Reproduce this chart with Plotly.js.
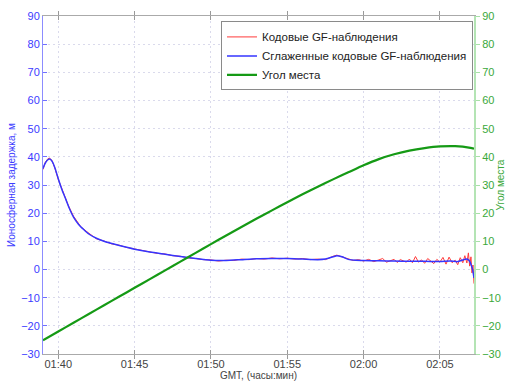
<!DOCTYPE html>
<html>
<head>
<meta charset="utf-8">
<script src="https://cdn.plot.ly/plotly-3.0.1.min.js"></script>
<style>html,body{margin:0;padding:0;background:#fff;}#chart{width:506px;height:383px;}</style>
</head>
<body>
<div id="chart"></div>
<script>
// ---- data ----
const DAY = '2000-01-01 ';
const legendNames = ['Кодовые GF-наблюдения', 'Сглаженные кодовые GF-наблюдения', 'Угол места'];

const rawTimes = ['01:39:00','01:39:08','01:39:16','01:39:24','01:39:34','01:39:46','01:40:00','01:40:20','01:40:40','01:41:00',
  '01:41:30','01:42:00','01:42:30','01:43:00','01:43:30','01:44:00','01:44:30','01:45:00','01:45:30','01:46:00',
  '01:46:30','01:47:00','01:47:30','01:48:00','01:48:30','01:49:00','01:49:30','01:50:00','01:50:30','01:51:00',
  '01:51:30','01:52:00','01:52:30','01:53:00','01:53:30','01:54:00','01:54:30','01:55:00','01:55:30','01:56:00',
  '01:56:30','01:57:00','01:57:30','01:58:00','01:58:15','01:58:35','01:59:00','01:59:20','01:59:40','02:00:00',
  '02:00:20','02:00:40','02:01:00','02:01:15','02:01:30','02:01:45','02:02:00','02:02:12','02:02:24','02:02:36',
  '02:02:48','02:03:00','02:03:12','02:03:24','02:03:36','02:03:48','02:04:00','02:04:12','02:04:24','02:04:36',
  '02:04:48','02:05:00','02:05:12','02:05:24','02:05:36','02:05:48','02:06:00','02:06:10','02:06:20','02:06:30',
  '02:06:38','02:06:46','02:06:52','02:06:57','02:07:02','02:07:06','02:07:10','02:07:14'];
const rawDelay = [35.5,37.9,39.0,39.6,38.9,36.2,32.0,27.0,22.6,18.9,
  15.0,12.9,10.9,10.1,9.1,8.6,7.8,7.3,6.7,6.3,
  5.7,5.5,4.9,4.7,4.1,3.9,3.5,3.4,3.0,3.3,
  3.2,3.7,3.5,3.9,3.7,4.1,3.8,4.0,3.7,3.9,
  3.5,3.7,3.5,4.7,5.1,4.5,3.8,3.2,3.5,3.0,
  3.6,2.8,3.4,3.9,2.6,3.2,3.6,2.5,3.5,3.1,
  2.6,3.7,2.4,4.6,2.6,3.4,2.2,3.9,2.9,2.1,
  3.6,2.6,4.3,1.9,4.4,2.4,3.3,1.7,4.2,2.4,
  4.9,2.3,5.9,1.2,4.5,-1.2,1.6,-5.0];

const smoothTimes = ['01:39:00','01:39:08','01:39:16','01:39:26','01:39:36','01:39:48','01:40:00','01:40:15','01:40:30','01:40:45',
  '01:41:00','01:41:20','01:41:40','01:42:00','01:42:30','01:43:00','01:43:30','01:44:00','01:45:00','01:46:00',
  '01:47:00','01:48:00','01:49:00','01:50:00','01:51:00','01:52:00','01:53:00','01:54:00','01:55:00','01:56:00',
  '01:57:00','01:57:30','01:58:00','01:58:15','01:58:35','01:59:00','01:59:30','02:00:00','02:01:00','02:02:00',
  '02:03:00','02:04:00','02:05:00','02:05:40','02:06:10','02:06:30','02:06:45','02:06:55','02:07:03','02:07:09','02:07:14'];
const smoothDelay = [35.9,37.6,38.7,39.2,38.4,35.8,32.2,28.2,24.8,21.4,
  18.6,16.0,14.2,12.6,11.1,10.0,9.2,8.5,7.2,6.2,
  5.4,4.6,3.9,3.3,3.2,3.5,3.8,3.9,3.9,3.7,
  3.5,3.7,4.5,4.9,4.5,3.6,3.3,3.2,3.1,3.0,
  2.9,2.9,2.8,3.0,2.8,3.4,3.7,3.2,1.6,-0.2,-3.0];

const elevTimes = ['01:39:00','01:40:00','01:41:00','01:42:00','01:43:00','01:44:00','01:45:00','01:46:00','01:47:00','01:48:00',
  '01:49:00','01:50:00','01:51:00','01:52:00','01:53:00','01:54:00','01:55:00','01:56:00','01:57:00','01:58:00',
  '01:59:00','02:00:00','02:01:00','02:02:00','02:03:00','02:04:00','02:05:00','02:06:00','02:07:00','02:07:14'];
const elevation = [-25.1,-22.0,-18.9,-15.8,-12.7,-9.6,-6.5,-3.4,-0.3,2.8,
  5.9,9.0,12.1,15.1,18.1,21.0,23.9,26.7,29.4,32.0,
  34.5,37.0,39.2,40.9,42.2,43.1,43.7,43.8,43.2,42.9];

const tickStart = '01:40:00';
const xRange = ['01:39:00', '02:07:14'];
const yRange = [-30, 90];

// ---- chart ----
const d = s => DAY + s;
const FONT = 'Liberation Sans, Arial, sans-serif';

const traces = [
  {x: rawTimes.map(d), y: rawDelay, name: legendNames[0], type: 'scatter', mode: 'lines',
   line: {color: '#ff3a3a', width: 1}, yaxis: 'y'},
  {x: smoothTimes.map(d), y: smoothDelay, name: legendNames[1], type: 'scatter', mode: 'lines',
   line: {color: '#3535ff', width: 1.5, shape: 'spline', smoothing: 0.6}, yaxis: 'y'},
  {x: elevTimes.map(d), y: elevation, name: legendNames[2], type: 'scatter', mode: 'lines',
   line: {color: '#159a15', width: 2.2, shape: 'spline', smoothing: 0.6}, yaxis: 'y2'}
];

const grid = '#dadaec';
const layout = {
  width: 506, height: 383,
  margin: {l: 43, r: 32, t: 16, b: 29},
  paper_bgcolor: '#fff', plot_bgcolor: '#fff',
  font: {family: FONT, size: 11, color: '#333'},
  showlegend: true,
  legend: {x: 0.413, y: 0.984, xanchor: 'left', yanchor: 'top', bgcolor: '#fff',
           bordercolor: '#8a8a8a', borderwidth: 1, font: {family: FONT, size: 11.5, color: '#222'},
           itemwidth: 30, tracegroupgap: 0},
  xaxis: {type: 'date', range: xRange.map(d), tickformat: '%H:%M', dtick: 300000, tick0: d(tickStart),
          ticks: 'inside', ticklen: 4, tickcolor: '#999', showline: true, linecolor: '#aaa', mirror: 'allticks',
          showgrid: true, gridcolor: grid, griddash: '2px,3px', zeroline: false,
          tickfont: {family: FONT, size: 11, color: '#444'},
          title: {text: 'GMT, (часы:мин)', font: {family: FONT, size: 10, color: '#444'}, standoff: 2}},
  yaxis: {range: yRange, dtick: 10, ticks: 'inside', ticklen: 4, tickcolor: '#7070ff', showline: true,
          linecolor: '#8c8cff', showgrid: true, gridcolor: grid, griddash: '2px,3px', zeroline: false,
          tickfont: {family: FONT, size: 11, color: '#3c3cff'},
          title: {text: 'Ионосферная задержка, м', font: {family: FONT, size: 10, color: '#3c3cff'}, standoff: 3}},
  yaxis2: {range: yRange, dtick: 10, overlaying: 'y', side: 'right', ticks: 'outside', ticklen: 4,
           tickcolor: '#a8e0a8', showline: true, linecolor: '#b4e4b4', linewidth: 2, showgrid: false, zeroline: false,
           tickfont: {family: FONT, size: 11, color: '#3aa83a'},
           title: {text: 'Угол места', font: {family: FONT, size: 10, color: '#3aa83a'}, standoff: 3}}
};

Plotly.newPlot('chart', traces, layout, {displayModeBar: false, staticPlot: true});
</script>
</body>
</html>
